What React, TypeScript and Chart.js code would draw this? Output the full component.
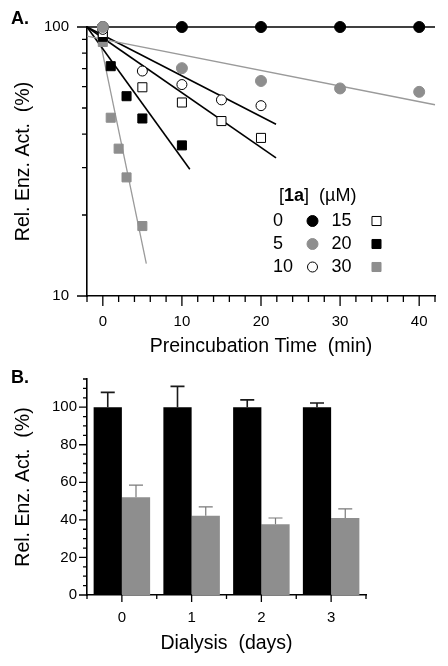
import React, { useEffect, useRef } from "react";
import { Chart, registerables } from "chart.js";

Chart.register(...registerables);

// ---------------- Panel A data ----------------
const CONC = ["0", "5", "10", "15", "20", "30"];
const TIME_0 = [0, 10, 20, 30, 40];
const ACT_0 = [100, 100, 100, 100, 100];
const TIME_5 = [0, 10, 20, 30, 40];
const ACT_5 = [100, 70.3, 63, 59.1, 57.4];
const TIME_10 = [0, 5, 10, 15, 20];
const ACT_10 = [98, 68.6, 61.1, 53.6, 51.0];
const TIME_15 = [0, 5, 10, 15, 20];
const ACT_15 = [95, 59.7, 52.4, 44.7, 38.7];
const TIME_20 = [0, 1, 3, 5, 10];
const ACT_20 = [92, 71.5, 55.3, 45.7, 36.3];
const TIME_30 = [0, 1, 2, 3, 5];
const ACT_30 = [88, 46, 35.3, 27.6, 18.2];

const FIT_X_0 = [-2, 42];
const FIT_Y_0 = [100, 100];
const FIT_X_5 = [-2, 42];
const FIT_Y_5 = [92.4, 51.4];
const FIT_X_10 = [-2, 21.9];
const FIT_Y_10 = [100, 43.5];
const FIT_X_15 = [-2, 21.9];
const FIT_Y_15 = [100, 32.6];
const FIT_X_20 = [-2, 11.0];
const FIT_Y_20 = [100, 29.6];
const FIT_X_30 = [-0.4, 5.5];
const FIT_Y_30 = [90.3, 13.2];

const A_X_MAJOR = [0, 10, 20, 30, 40];
const A_X_MINOR = [-2, 2, 4, 6, 8, 12, 14, 16, 18, 22, 24, 26, 28, 32, 34, 36, 38, 42];
const A_Y_MAJOR = [10, 100];
const A_Y_MINOR = [20, 30, 40, 50, 60, 70, 80, 90];

// ---------------- Panel B data ----------------
const DAYS = ["0", "1", "2", "3"];
const CONTROL = [100, 100, 100, 100];
const CONTROL_ERR = [7.9, 11.1, 3.9, 2.2];
const TREATED = [52.1, 42.2, 37.7, 41.0];
const TREATED_ERR = [6.4, 4.7, 3.3, 4.9];
const B_Y_MAJOR = [0, 20, 40, 60, 80, 100];
const B_Y_MINOR = [5, 10, 15, 25, 30, 35, 45, 50, 55, 65, 70, 75, 85, 90, 95, 105, 110, 115];
const B_X_MAJOR = [0, 1, 2, 3];
const B_X_MINOR = [-0.5, 0.5, 1.5, 2.5, 3.5];

const FONT = "'Liberation Sans', Arial, Helvetica, sans-serif";
const TITLE_SIZE = 19.5;
const GRAY = "#8e8e8e";
const LINE_GRAY = "#9a9a9a";

type Marker = { style: string; fill: string; stroke: string; r: number };
const MARKERS: Marker[] = [
  { style: "circle", fill: "#000", stroke: "#000", r: 5.5 },
  { style: "circle", fill: GRAY, stroke: GRAY, r: 5.5 },
  { style: "circle", fill: "#fff", stroke: "#000", r: 5 },
  { style: "rect", fill: "#fff", stroke: "#000", r: 6.4 },
  { style: "rect", fill: "#000", stroke: "#000", r: 6.4 },
  { style: "rect", fill: GRAY, stroke: GRAY, r: 6.4 },
];
const LINE_COLORS = ["#000", LINE_GRAY, "#000", "#000", "#000", LINE_GRAY];

function drawTickMarks(ctx: CanvasRenderingContext2D, scale: any, values: number[], len: number, horizontal: boolean, width = 1.3) {
  ctx.save();
  ctx.strokeStyle = "#000";
  ctx.lineWidth = width;
  ctx.beginPath();
  for (const v of values) {
    const p = scale.getPixelForValue(v);
    if (horizontal) {
      ctx.moveTo(p, scale.top);
      ctx.lineTo(p, scale.top + len);
    } else {
      ctx.moveTo(scale.right, p);
      ctx.lineTo(scale.right - len, p);
    }
  }
  ctx.stroke();
  ctx.restore();
}

function drawMarker(ctx: CanvasRenderingContext2D, m: Marker, x: number, y: number) {
  ctx.save();
  ctx.fillStyle = m.fill;
  ctx.strokeStyle = m.stroke;
  ctx.lineWidth = 1;
  ctx.beginPath();
  if (m.style === "circle") {
    ctx.arc(x, y, m.r, 0, Math.PI * 2);
  } else {
    const s = m.r * Math.SQRT1_2;
    ctx.rect(x - s, y - s, 2 * s, 2 * s);
  }
  ctx.fill();
  ctx.stroke();
  ctx.restore();
}

function PanelA() {
  const ref = useRef<HTMLCanvasElement>(null);
  useEffect(() => {
    if (!ref.current) return;
    const times = [TIME_0, TIME_5, TIME_10, TIME_15, TIME_20, TIME_30];
    const acts = [ACT_0, ACT_5, ACT_10, ACT_15, ACT_20, ACT_30];
    const fitX = [FIT_X_0, FIT_X_5, FIT_X_10, FIT_X_15, FIT_X_20, FIT_X_30];
    const fitY = [FIT_Y_0, FIT_Y_5, FIT_Y_10, FIT_Y_15, FIT_Y_20, FIT_Y_30];
    const pointOrder = [3, 1, 2, 4, 5, 6];

    const datasets: any[] = [];
    CONC.forEach((c, i) => {
      datasets.push({
        type: "line",
        label: c + " fit",
        data: fitX[i].map((x, k) => ({ x, y: fitY[i][k] })),
        borderColor: LINE_COLORS[i],
        borderWidth: LINE_COLORS[i] === "#000" ? 1.6 : 1.3,
        pointRadius: 0,
        fill: false,
        clip: false,
        order: 20,
      });
    });
    CONC.forEach((c, i) => {
      const m = MARKERS[i];
      datasets.push({
        type: "scatter",
        label: c + " µM",
        data: times[i].map((x, k) => ({ x, y: acts[i][k] })),
        pointStyle: m.style,
        pointRadius: m.r,
        pointBackgroundColor: m.fill,
        pointBorderColor: m.stroke,
        pointBorderWidth: 1,
        showLine: false,
        clip: false,
        order: pointOrder[i],
      });
    });

    const overlay = {
      id: "panelAOverlay",
      afterDraw(chart: any) {
        const ctx = chart.ctx as CanvasRenderingContext2D;
        const xs = chart.scales.x;
        const ys = chart.scales.y;
        drawTickMarks(ctx, xs, A_X_MAJOR, 10, true);
        drawTickMarks(ctx, xs, A_X_MINOR, 6, true);
        drawTickMarks(ctx, ys, A_Y_MAJOR, 10, false);
        drawTickMarks(ctx, ys, A_Y_MINOR, 5, false);

        // panel letter
        ctx.save();
        ctx.fillStyle = "#000";
        ctx.font = `bold 18px ${FONT}`;
        ctx.textBaseline = "middle";
        ctx.textAlign = "left";
        ctx.fillText("A.", 11, 19);

        // legend
        let hx = 279;
        const hy = 196;
        const parts: [string, boolean][] = [["[", false], ["1a", true], ["]  (µM)", false]];
        for (const [t, b] of parts) {
          ctx.font = `${b ? "bold " : ""}18px ${FONT}`;
          ctx.fillText(t, hx, hy);
          hx += ctx.measureText(t).width;
        }
        ctx.font = `18px ${FONT}`;
        const rowsY = [221, 244, 267];
        for (let r = 0; r < 3; r++) {
          const y = rowsY[r];
          ctx.fillText(CONC[r], 273, y);
          drawMarker(ctx, MARKERS[r], 312.5, y);
          ctx.fillStyle = "#000";
          ctx.fillText(CONC[r + 3], 331.5, y);
          drawMarker(ctx, MARKERS[r + 3], 376.5, y);
          ctx.fillStyle = "#000";
        }
        ctx.restore();
      },
    };

    const chart = new Chart(ref.current, {
      type: "scatter",
      data: { datasets },
      options: {
        animation: false,
        responsive: false,
        maintainAspectRatio: false,
        events: [],
        layout: { padding: { top: 18, right: 13, left: 0, bottom: 0 } },
        plugins: { legend: { display: false }, tooltip: { enabled: false } },
        scales: {
          x: {
            type: "linear",
            min: -2,
            max: 42,
            grid: { display: false, drawTicks: false },
            border: { display: true, color: "#000", width: 1.6 },
            afterBuildTicks: (s: any) => {
              s.ticks = A_X_MAJOR.map((v) => ({ value: v }));
            },
            afterFit: (s: any) => {
              s.height = 64;
            },
            ticks: {
              color: "#000",
              padding: 17,
              maxRotation: 0,
              autoSkip: false,
              font: { family: FONT, size: 15 },
            },
            title: {
              display: true,
              text: "Preincubation Time  (min)",
              color: "#000",
              font: { family: FONT, size: TITLE_SIZE },
              padding: { top: 0, bottom: 1.5 },
            },
          },
          y: {
            type: "logarithmic",
            min: 10,
            max: 100,
            grid: { display: false, drawTicks: false },
            border: { display: true, color: "#000", width: 1.6 },
            afterBuildTicks: (s: any) => {
              s.ticks = A_Y_MAJOR.map((v) => ({ value: v }));
            },
            afterFit: (s: any) => {
              s.width = 87;
            },
            ticks: {
              color: "#000",
              padding: 18,
              autoSkip: false,
              font: { family: FONT, size: 15 },
              callback: (v: any) => String(v),
            },
            title: {
              display: true,
              text: "Rel. Enz. Act.  (%)",
              color: "#000",
              font: { family: FONT, size: TITLE_SIZE },
              padding: { top: 11.5, bottom: 0 },
            },
          },
        },
      },
      plugins: [overlay],
    } as any);
    return () => chart.destroy();
  }, []);
  return <canvas ref={ref} width={448} height={360} style={{ position: "absolute", left: 0, top: 0, width: 448, height: 360 }} />;
}

function PanelB() {
  const ref = useRef<HTMLCanvasElement>(null);
  useEffect(() => {
    if (!ref.current) return;
    const errs = [CONTROL_ERR, TREATED_ERR];
    const errColors = ["#1a1a1a", "#7a7a7a"];
    const errWidths = [1.6, 1.2];
    const overlay = {
      id: "panelBOverlay",
      afterDatasetsDraw(chart: any) {
        const ctx = chart.ctx as CanvasRenderingContext2D;
        const ys = chart.scales.y;
        ctx.save();
        for (let d = 0; d < 2; d++) {
          const meta = chart.getDatasetMeta(d);
          const vals = chart.data.datasets[d].data as number[];
          ctx.strokeStyle = errColors[d];
          ctx.lineWidth = errWidths[d];
          meta.data.forEach((el: any, i: number) => {
            const top = ys.getPixelForValue(vals[i] + errs[d][i]);
            ctx.beginPath();
            ctx.moveTo(el.x, el.y);
            ctx.lineTo(el.x, top);
            ctx.moveTo(el.x - 7, top);
            ctx.lineTo(el.x + 7, top);
            ctx.stroke();
          });
        }
        ctx.restore();
      },
      afterDraw(chart: any) {
        const ctx = chart.ctx as CanvasRenderingContext2D;
        const xs = chart.scales.x;
        const ys = chart.scales.y;
        drawTickMarks(ctx, xs, B_X_MAJOR, 7, true);
        drawTickMarks(ctx, xs, B_X_MINOR, 4, true);
        drawTickMarks(ctx, ys, B_Y_MAJOR, 8, false);
        drawTickMarks(ctx, ys, B_Y_MINOR, 4, false);
        ctx.save();
        ctx.fillStyle = "#000";
        ctx.font = `bold 18px ${FONT}`;
        ctx.textBaseline = "middle";
        ctx.textAlign = "left";
        ctx.fillText("B.", 11, 18);
        ctx.restore();
      },
    };
    const chart = new Chart(ref.current, {
      type: "bar",
      data: {
        labels: DAYS,
        datasets: [
          { label: "control", data: CONTROL, backgroundColor: "#000", borderWidth: 0, categoryPercentage: 0.81, barPercentage: 1 },
          { label: "1a", data: TREATED, backgroundColor: GRAY, borderWidth: 0, categoryPercentage: 0.81, barPercentage: 1 },
        ],
      },
      options: {
        animation: false,
        responsive: false,
        maintainAspectRatio: false,
        events: [],
        layout: { padding: { top: 8, right: 82, left: 0, bottom: 0 } },
        plugins: { legend: { display: false }, tooltip: { enabled: false } },
        scales: {
          x: {
            grid: { display: false, drawTicks: false },
            border: { display: true, color: "#000", width: 1.6 },
            afterFit: (s: any) => {
              s.height = 71;
            },
            ticks: { color: "#000", padding: 14, font: { family: FONT, size: 15 } },
            title: {
              display: true,
              text: "Dialysis  (days)",
              color: "#000",
              font: { family: FONT, size: TITLE_SIZE },
              padding: { top: 0, bottom: 11 },
            },
          },
          y: {
            min: 0,
            max: 115,
            grid: { display: false, drawTicks: false },
            border: { display: true, color: "#000", width: 1.6 },
            afterBuildTicks: (s: any) => {
              s.ticks = B_Y_MAJOR.map((v) => ({ value: v }));
            },
            afterFit: (s: any) => {
              s.width = 87;
            },
            ticks: { color: "#000", padding: 10, autoSkip: false, font: { family: FONT, size: 15 } },
            title: {
              display: true,
              text: "Rel. Enz. Act.  (%)",
              color: "#000",
              font: { family: FONT, size: TITLE_SIZE },
              padding: { top: 11.5, bottom: 0 },
            },
          },
        },
      },
      plugins: [overlay],
    } as any);
    return () => chart.destroy();
  }, []);
  return <canvas ref={ref} width={448} height={306} style={{ position: "absolute", left: 0, top: 360, width: 448, height: 306 }} />;
}

export default function App() {
  return (
    <div style={{ position: "absolute", left: 0, top: 0, width: 448, height: 666, background: "#fff", overflow: "hidden" }}>
      <PanelA />
      <PanelB />
    </div>
  );
}
